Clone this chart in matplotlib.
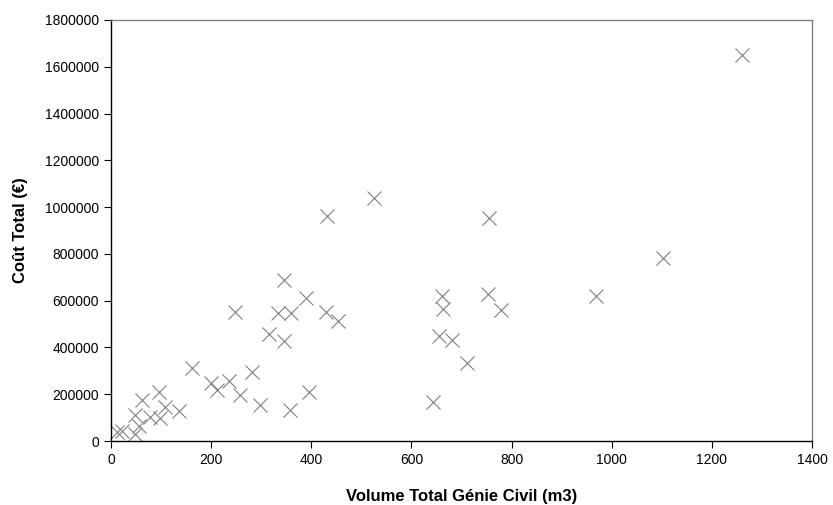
import matplotlib
matplotlib.use('Agg')
import matplotlib.pyplot as plt
from matplotlib.ticker import MultipleLocator, FuncFormatter

plt.rcParams['font.family'] = ['Liberation Sans', 'DejaVu Sans']

# Volume total génie civil (m3) vs coût total (€)
volume = [1260, 1103, 969, 755, 753, 661, 663, 778, 655, 681, 711, 643,
          526, 431, 346, 389, 248, 333, 359, 429, 453, 315, 346,
          161, 199, 211, 235, 281, 257, 297, 357, 395,
          95, 61, 135, 48, 98, 108, 78, 55, 48, 22, 12]
cout = [1650000, 781000, 620000, 955000, 627000, 620000, 563000, 560000, 450000, 432000, 332000, 168000,
        1037000, 960000, 688000, 613000, 553000, 546000, 546000, 553000, 512000, 456000, 428000,
        311000, 250000, 220000, 257000, 296000, 195000, 155000, 134000, 208000,
        208000, 175000, 128000, 113000, 97000, 147000, 104000, 65000, 32000, 42000, 38000]

fig = plt.figure(figsize=(8.33, 5.05), dpi=100)
ax = fig.add_axes([0.1333, 0.1267, 0.8415, 0.8337])

ax.plot(volume, cout, linestyle='none', marker='x', markersize=10,
        markeredgewidth=0.8, color='#808080', clip_on=False)

ax.set_xlim(0, 1400)
ax.set_ylim(0, 1800000)
ax.xaxis.set_major_locator(MultipleLocator(200))
ax.yaxis.set_major_locator(MultipleLocator(200000))
ax.yaxis.set_major_formatter(FuncFormatter(lambda v, p: f'{int(v)}'))

for s in ['left', 'bottom']:
    ax.spines[s].set_color('black')
    ax.spines[s].set_linewidth(1.0)
for s in ['top', 'right']:
    ax.spines[s].set_color('#808080')
    ax.spines[s].set_linewidth(1.0)

ax.tick_params(direction='out', length=5, width=0.8, labelsize=10, colors='black')

ax.set_xlabel('Volume Total Génie Civil (m3)', fontsize=12, fontweight='bold', labelpad=16)
ax.set_ylabel('Coût Total (€)', fontsize=12, fontweight='bold', labelpad=12)

fig.savefig('out.png', dpi=100)
